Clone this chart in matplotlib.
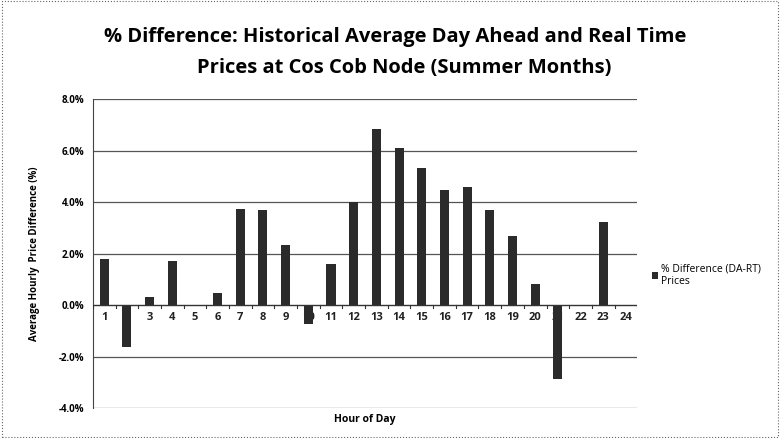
import numpy as np
import matplotlib
matplotlib.use("Agg")
from matplotlib import pyplot as plt
from matplotlib.patches import Rectangle

hours = [str(h) for h in range(1, 25)]
pct_diff = [1.80, -1.63, 0.31, 1.71, -0.04, 0.47, 3.75, 3.68, 2.33, -0.73, 1.61, 4.01,
            6.84, 6.12, 5.34, 4.47, 4.59, 3.70, 2.67, 0.83, -2.89, -0.04, 3.22, 0.0]
yticks = [-4, -2, 0, 2, 4, 6, 8]

plt.rcParams['font.family'] = ['Open Sans', 'DejaVu Sans']

fig = plt.figure(figsize=(7.8, 4.38), dpi=100)
ax = fig.add_axes([0.119, 0.0685, 0.698, 0.705])

x = np.arange(len(hours))
ax.bar(x, pct_diff, width=0.4, color='#2b2b2b', zorder=3, label='% Difference (DA-RT)\nPrices')

ax.set_xlim(-0.5, len(hours) - 0.5)
ax.set_ylim(-4, 8)
ax.set_yticks(yticks)
ax.set_yticklabels([f"{v:.1f}%" for v in yticks], fontsize=7, fontweight='bold')
for v in yticks:
    if v != 0:
        ax.axhline(v, color='#555555', lw=0.9, zorder=1)
ax.axhline(0, color='#333333', lw=1.0, zorder=4)

# x labels sit just under the zero line, like excel
ax.set_xticks([])
for i, h in enumerate(hours):
    ax.text(i, -0.5, h, ha='center', va='center', fontsize=8, fontweight='bold',
            color='#222222', zorder=2)
for i in range(len(hours) + 1):
    ax.plot([i - 0.5, i - 0.5], [0, -0.12], color='#333333', lw=0.8, zorder=4)

for s in ['top', 'right', 'bottom']:
    ax.spines[s].set_visible(False)
ax.spines['left'].set_color('#444444')
ax.tick_params(axis='y', length=0, pad=6)

ax.set_xlabel('Hour of Day', fontsize=7.5, fontweight='bold', labelpad=4)
ax.set_ylabel('Average Hourly  Price Difference (%)', fontsize=7, fontweight='bold', labelpad=14)

fig.text(0.507, 0.915, '% Difference: Historical Average Day Ahead and Real Time',
         ha='center', va='center', fontsize=14.5, fontweight='bold')
fig.text(0.518, 0.845, 'Prices at Cos Cob Node (Summer Months)',
         ha='center', va='center', fontsize=14.5, fontweight='bold')

ax.legend(loc='center left', bbox_to_anchor=(1.01, 0.43), frameon=False, fontsize=7.5,
          handlelength=0.6, handleheight=0.6, handletextpad=0.3)

fig.patches.append(Rectangle((0.003, 0.003), 0.994, 0.994, transform=fig.transFigure,
                             fill=False, ls=':', lw=0.8, ec='#666666'))

fig.savefig('out.png', dpi=100)
